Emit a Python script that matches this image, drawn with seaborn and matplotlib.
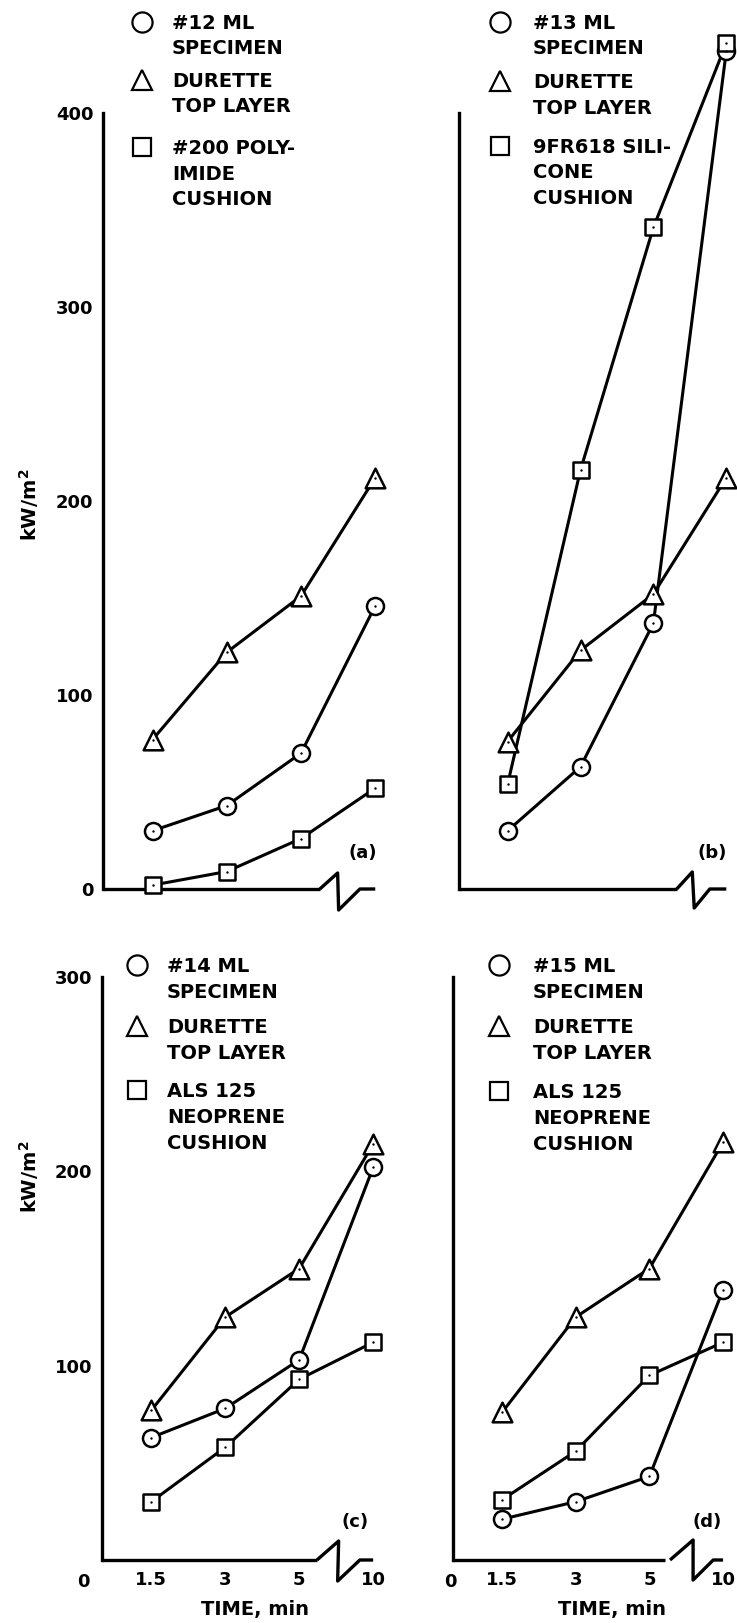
import numpy as np
import pandas as pd
import matplotlib
matplotlib.use("Agg")
import matplotlib.pyplot as plt
import seaborn as sns

# ---------------- data ----------------
TIME_LABELS = ["1.5", "3", "5", "10"]

A_SPECIMEN = [30, 43, 70, 146]
A_DURETTE = [77, 122, 151, 212]
A_CUSHION = [2, 9, 26, 52]

B_SPECIMEN = [30, 63, 137, 432]
B_DURETTE = [76, 123, 152, 212]
B_CUSHION = [54, 216, 341, 436]

C_SPECIMEN = [63, 78, 103, 202]
C_DURETTE = [77, 125, 150, 214]
C_CUSHION = [30, 58, 93, 112]

D_SPECIMEN = [21, 30, 43, 139]
D_DURETTE = [76, 125, 150, 215]
D_CUSHION = [31, 56, 95, 112]

LEG_A = [["#12 ML", "SPECIMEN"], ["DURETTE", "TOP LAYER"], ["#200 POLY-", "IMIDE", "CUSHION"]]
LEG_B = [["#13 ML", "SPECIMEN"], ["DURETTE", "TOP LAYER"], ["9FR618 SILI-", "CONE", "CUSHION"]]
LEG_C = [["#14 ML", "SPECIMEN"], ["DURETTE", "TOP LAYER"], ["ALS 125", "NEOPRENE", "CUSHION"]]
LEG_D = [["#15 ML", "SPECIMEN"], ["DURETTE", "TOP LAYER"], ["ALS 125", "NEOPRENE", "CUSHION"]]

TOP_TICKS = [100, 200, 300, 400]
BOTTOM_TICKS = [100, 200, 300]

# ---------------- style ----------------
sns.set_style("white")
plt.rcParams["font.family"] = ["DejaVu Sans"]
plt.rcParams["font.weight"] = "bold"
for key in ["text.color", "axes.labelcolor", "xtick.color", "ytick.color",
            "xtick.labelcolor", "ytick.labelcolor", "axes.edgecolor"]:
    plt.rcParams[key] = "black"

W, H = 737, 1623
fig = plt.figure(figsize=(W / 100, H / 100), dpi=100)
fig.patch.set_facecolor("white")

# categorical positions of the broken time axis (evenly spaced)
POS = [1 + 1.5 * i for i in range(len(TIME_LABELS))]
XMAX = 5.6


def make_ax(left, unit, zero_y, top_y, ymax):
    height = zero_y - top_y
    width = XMAX * unit
    ax = fig.add_axes([left / W, 1 - zero_y / H, width / W, height / H])
    ax.set_xlim(0, XMAX)
    ax.set_ylim(0, ymax)
    ax.patch.set_alpha(0)
    for s in ["top", "right", "bottom"]:
        ax.spines[s].set_visible(False)
    ax.spines["left"].set_linewidth(2.4)
    ax.spines["left"].set_color("black")
    ax.set_xlabel("")
    ax.set_ylabel("")
    return ax, height


def draw_series(ax, specimen, durette, cushion):
    df = pd.DataFrame({
        "pos": POS * 3,
        "value": durette + specimen + cushion,
        "series": ["durette"] * 4 + ["specimen"] * 4 + ["cushion"] * 4,
    })
    sns.lineplot(data=df, x="pos", y="value", hue="series",
                 palette={"durette": "black", "specimen": "black", "cushion": "black"},
                 linewidth=2.2, sort=False, legend=False, ax=ax, clip_on=False, zorder=2)
    specs = [("durette", "^", 200), ("specimen", "o", 150), ("cushion", "s", 130)]
    for name, mk, s in specs:
        sub = df[df["series"] == name]
        sns.scatterplot(data=sub, x="pos", y="value", marker=mk, s=s, color="white",
                        edgecolor="black", linewidth=1.8, legend=False, ax=ax,
                        clip_on=False, zorder=3)
        sns.scatterplot(data=sub, x="pos", y="value", marker="o", s=3, color="black",
                        linewidth=0, legend=False, ax=ax, clip_on=False, zorder=4)
    ax.set_xlabel("")
    ax.set_ylabel("")


def draw_break(ax, height_px, ymax, axis_end, zz_start, peak, bottom, rejoin, up_px, down_px):
    u = ymax / height_px
    kw = dict(color="black", linewidth=2.4, clip_on=False, solid_capstyle="butt")
    p5, p10 = POS[2], POS[3]
    ax.plot([0, p5 + axis_end], [0, 0], **kw)
    ax.plot([p5 + zz_start, p5 + peak, p5 + bottom, p5 + rejoin, p10],
            [0, up_px * u, -down_px * u, 0, 0], **kw)


def style_ticks(ax, yticks, ylabels, xlabels):
    ax.set_xticks(POS)
    ax.set_xticklabels(TIME_LABELS if xlabels else [])
    ax.set_yticks(yticks)
    ax.set_yticklabels([str(t) for t in yticks] if ylabels else [])
    ax.tick_params(axis="x", direction="in", length=7, width=1.8, pad=8,
                   labelsize=13, labelbottom=xlabels, color="black", labelcolor="black")
    ax.tick_params(axis="y", direction="in", length=9, width=1.8, pad=7,
                   labelsize=13, labelleft=ylabels, color="black", labelcolor="black")
    for lab in ax.get_xticklabels() + ax.get_yticklabels():
        lab.set_fontweight("bold")
        lab.set_color("black")


# ---------------- panels ----------------
axA, hA = make_ax(103, 49.5, 889, 113, 400)
draw_series(axA, A_SPECIMEN, A_DURETTE, A_CUSHION)
style_ticks(axA, [0] + TOP_TICKS, True, False)
draw_break(axA, hA, 400, 0.38, 0.38, 0.74, 0.76, 1.19, 16, 21)

axB, hB = make_ax(459, 48.6, 889, 113, 400)
draw_series(axB, B_SPECIMEN, B_DURETTE, B_CUSHION)
style_ticks(axB, TOP_TICKS, False, False)
draw_break(axB, hB, 400, 0.48, 0.48, 0.8, 0.84, 1.16, 17, 19)

axC, hC = make_ax(102, 49.3, 1560, 977, 300)
draw_series(axC, C_SPECIMEN, C_DURETTE, C_CUSHION)
style_ticks(axC, BOTTOM_TICKS, True, True)
draw_break(axC, hC, 300, 0.36, 0.36, 0.8, 0.78, 1.23, 19, 21)

axD, hD = make_ax(453, 49.1, 1560, 977, 300)
draw_series(axD, D_SPECIMEN, D_DURETTE, D_CUSHION)
style_ticks(axD, BOTTOM_TICKS, False, True)
draw_break(axD, hD, 300, 0.32, 0.42, 0.89, 0.89, 1.3, 20, 20)

# ---------------- overlay (pixel coordinates) for text & legend keys ----------------
ov = fig.add_axes([0, 0, 1, 1])
ov.set_xlim(0, W)
ov.set_ylim(H, 0)
ov.axis("off")
ov.patch.set_alpha(0)

LEG_MARKERS = [("o", 14.5), ("^", 15), ("s", 13)]


def draw_legend(entries, mx, tx, ys, spacing=25.5):
    for (mk, ms), lines, y0 in zip(LEG_MARKERS, entries, ys):
        ov.plot([mx], [y0], marker=mk, markersize=ms, markerfacecolor="white",
                markeredgecolor="black", markeredgewidth=1.6, linestyle="none")
        for i, line in enumerate(lines):
            ov.text(tx, y0 + i * spacing + 7, line, fontsize=14, fontweight="bold",
                    ha="left", va="baseline", color="black")


draw_legend(LEG_A, 142, 172, [22, 80, 147])
draw_legend(LEG_B, 500, 533, [22, 81, 146])
draw_legend(LEG_C, 137, 167, [965, 1026, 1090], spacing=26)
draw_legend(LEG_D, 499, 533, [965, 1026, 1091], spacing=26)

for txt, x, y in [("(a)", 377, 853), ("(b)", 727, 853), ("(c)", 369, 1522), ("(d)", 722, 1522)]:
    ov.text(x, y, txt, fontsize=13, fontweight="bold", ha="right", va="center", color="black")

for x in [83, 450]:
    ov.text(x, 1582, "0", fontsize=13, fontweight="bold", ha="center", va="center", color="black")

for x in [255, 612]:
    ov.text(x, 1610, "TIME, min", fontsize=14, fontweight="bold", ha="center", va="center",
            color="black")

for y in [505, 1177]:
    ov.text(29, y, "kW/m$^{\\mathbf{2}}$", fontsize=14, fontweight="bold", rotation=90,
            ha="center", va="center", color="black")

fig.savefig("out.png", dpi=100, facecolor="white")
